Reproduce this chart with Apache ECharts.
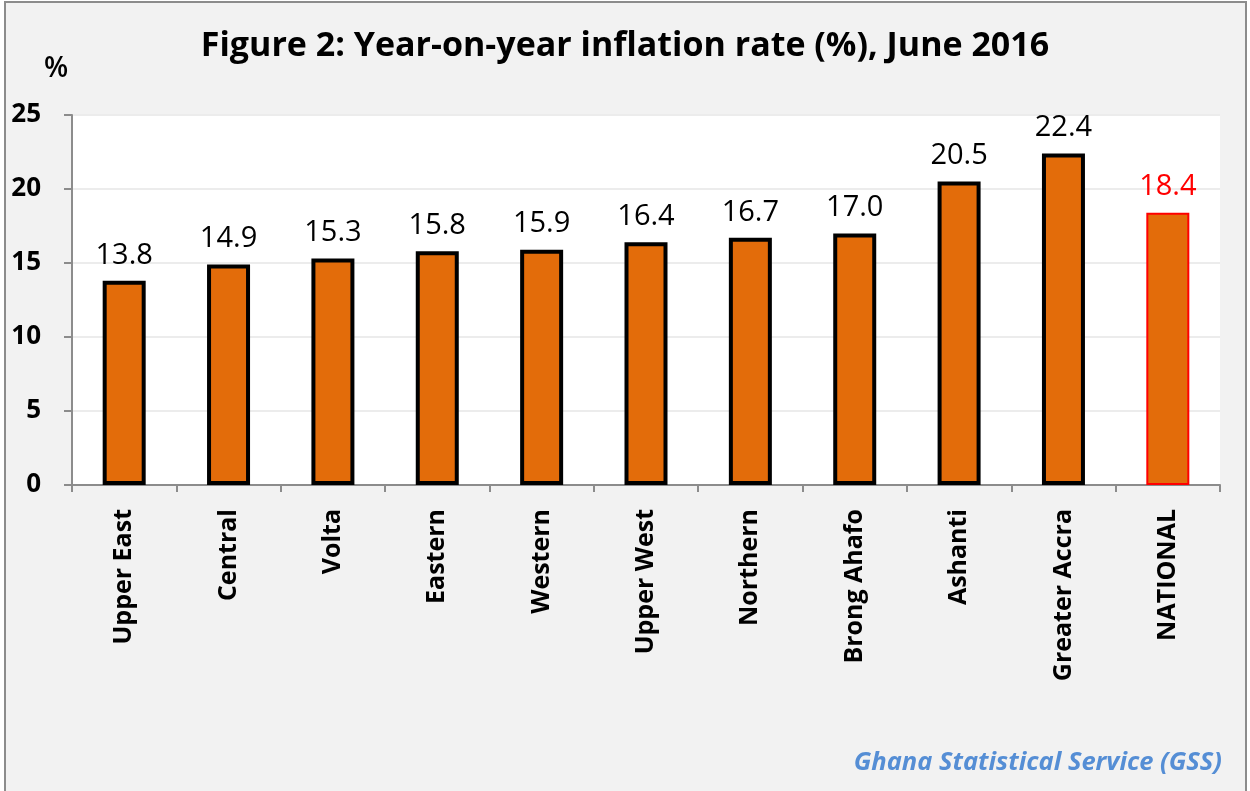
<!DOCTYPE html>
<html>
<head>
<meta charset="utf-8">
<script src="https://cdn.jsdelivr.net/npm/echarts@6/dist/echarts.min.js"></script>
<style>
html,body{margin:0;padding:0;background:#fff;}
#wrap{position:absolute;left:4px;top:1px;width:1243px;height:800px;border:2px solid #8c8c8c;border-bottom:none;background:#f2f2f2;box-sizing:border-box;}
#chart{position:absolute;left:0;top:0;width:1250px;height:791px;}
</style>
</head>
<body>
<div id="wrap"></div>
<div id="chart"></div>
<script>
const categories = ['Upper East','Central','Volta','Eastern','Western','Upper West','Northern','Brong Ahafo','Ashanti','Greater Accra','NATIONAL'];
const values = [13.8, 14.9, 15.3, 15.8, 15.9, 16.4, 16.7, 17.0, 20.5, 22.4, 18.4];
const yTicks = [0, 5, 10, 15, 20, 25];
const titleText = 'Figure 2: Year-on-year inflation rate (%), June 2016';
const sourceText = 'Ghana Statistical Service (GSS)';

const FONT = 'Open Sans';
const chart = echarts.init(document.getElementById('chart'), null, {renderer:'canvas'});
const data = values.map((v, i) => {
  const isNat = categories[i] === 'NATIONAL';
  return {
    value: v,
    itemStyle: isNat ? {color:'#e36c0a', borderColor:'#ff0000', borderWidth:2} : {color:'#e36c0a', borderColor:'#000', borderWidth:4},
    label: isNat ? {color:'#ff0000'} : {color:'#000'}
  };
});
chart.setOption({
  backgroundColor: 'transparent',
  animation: false,
  title: {
    text: titleText, left: 'center', top: 24,
    textStyle: {fontFamily: FONT, fontWeight: 'bold', fontSize: 34, color: '#000'}
  },
  graphic: [
    {type:'rect', shape:{x:72, y:115, width:1148, height:370}, style:{fill:'#fff'}, z:-10},
    {type:'text', left: 44, top: 55, style:{text:'%', font:'600 28px "Open Sans"', fill:'#000'}},
    {type:'text', right: 28, top: 750, style:{text: sourceText, font:'italic bold 25.5px "Open Sans"', fill:'#558ed5'}}
  ],
  grid: {left:72, right:30, top:115, bottom:306, containLabel:false},
  xAxis: {
    type: 'category', data: categories,
    axisLine: {lineStyle:{color:'#8c8c8c', width:2}},
    axisTick: {show:true, alignWithLabel:false, length:7, lineStyle:{color:'#8c8c8c', width:2}},
    axisLabel: {rotate:90, fontFamily: FONT, fontWeight:'bold', fontSize:25, color:'#000', margin:24, interval:0}
  },
  yAxis: {
    type: 'value', min: 0, max: 25, interval: 5,
    axisLine: {show:true, lineStyle:{color:'#8c8c8c', width:2}},
    axisTick: {show:true, length:8, lineStyle:{color:'#8c8c8c', width:2}},
    axisLabel: {fontFamily: FONT, fontWeight:'bold', fontSize:26, color:'#000', margin:31,
      formatter: v => yTicks.includes(v) ? String(v) : ''},
    splitLine: {lineStyle:{color:'#ececec', width:2}}
  },
  series: [{
    type: 'bar', data: data, barWidth: 43,
    label: {show:true, position:'top', distance:11, fontFamily: FONT, fontSize:29,
      formatter: p => p.value.toFixed(1)}
  }]
});
</script>
</body>
</html>
